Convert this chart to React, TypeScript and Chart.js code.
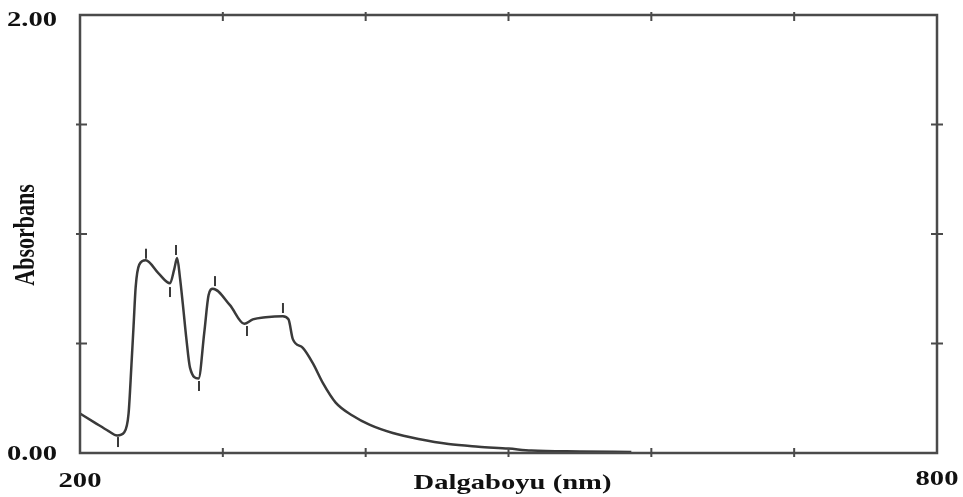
import React, { useEffect, useRef } from "react";
import { Chart, registerables } from "chart.js";

Chart.register(...registerables);

const wavelengths = [200, 210, 220, 226, 231, 234, 236, 237.5, 239, 241.5, 246, 255, 263, 266, 268, 270, 272, 274.5, 277, 283, 287, 290, 293, 305, 315, 321, 330, 342, 346, 349, 356, 363, 370, 379, 391, 403, 419, 437, 458, 479, 500, 516, 550, 586];
const absorbance = [0.18, 0.14, 0.1, 0.08, 0.095, 0.18, 0.4, 0.58, 0.76, 0.86, 0.88, 0.82, 0.775, 0.84, 0.89, 0.8, 0.68, 0.52, 0.39, 0.34, 0.55, 0.72, 0.75, 0.675, 0.59, 0.61, 0.62, 0.625, 0.61, 0.52, 0.48, 0.41, 0.32, 0.23, 0.17, 0.128, 0.091, 0.064, 0.041, 0.029, 0.02, 0.011, 0.007, 0.005];

const peakWavelengths = [226.6, 246.2, 263, 267.2, 283.3, 294.5, 316.9, 342.1];
const peakMarkValues = [0.05, 0.91, 0.735, 0.927, 0.306, 0.785, 0.557, 0.662];

const xMin = 200;
const xMax = 800;
const yMin = 0;
const yMax = 2;
const xTickValues = [300, 400, 500, 600, 700];
const yTickValues = [0.5, 1.0, 1.5];
const xEndLabels = ["200", "800"];
const yEndLabels = ["0.00", "2.00"];
const xTitle = "Dalgaboyu (nm)";
const yTitle = "Absorbans";

const FONT = "bold 22px 'Liberation Serif', 'Times New Roman', serif";
const STRETCH = 1.3;
const AXIS_COLOR = "#4a4a4a";

const framePlugin = {
  id: "frame",
  afterDraw(chart: any) {
    const { ctx, chartArea } = chart;
    const xs = chart.scales.x;
    const ys = chart.scales.y;
    const { left, right, top, bottom } = chartArea;
    ctx.save();
    ctx.strokeStyle = AXIS_COLOR;
    ctx.lineWidth = 2.5;
    ctx.strokeRect(left, top, right - left, bottom - top);
    ctx.lineWidth = 2;
    for (const v of xTickValues) {
      const px = xs.getPixelForValue(v);
      ctx.beginPath();
      ctx.moveTo(px, top - 3);
      ctx.lineTo(px, top + 6);
      ctx.moveTo(px, bottom - 5);
      ctx.lineTo(px, bottom + 4);
      ctx.stroke();
    }
    for (const v of yTickValues) {
      const py = ys.getPixelForValue(v);
      ctx.beginPath();
      ctx.moveTo(left - 4, py);
      ctx.lineTo(left + 7, py);
      ctx.moveTo(right - 6, py);
      ctx.lineTo(right + 6, py);
      ctx.stroke();
    }

    ctx.fillStyle = "#111";
    ctx.font = FONT;
    const drawText = (t: string, x: number, y: number, align: CanvasTextAlign) => {
      ctx.save();
      ctx.translate(x, y);
      ctx.scale(STRETCH, 1);
      ctx.textAlign = align;
      ctx.textBaseline = "middle";
      ctx.fillText(t, 0, 0);
      ctx.restore();
    };
    // y end labels
    drawText(yEndLabels[0], left - 23, ys.getPixelForValue(yMin) + 1, "right");
    drawText(yEndLabels[1], left - 23, Math.max(ys.getPixelForValue(yMax), 20), "right");
    // x end labels
    drawText(xEndLabels[0], xs.getPixelForValue(xMin), bottom + 28, "center");
    drawText(xEndLabels[1], xs.getPixelForValue(xMax), bottom + 26, "center");
    // x title
    drawText(xTitle, (left + right) / 2 + 4, bottom + 30, "center");
    // y title
    ctx.save();
    ctx.translate(27, (top + bottom) / 2 + 1);
    ctx.rotate(-Math.PI / 2);
    ctx.scale(1, STRETCH);
    ctx.textAlign = "center";
    ctx.textBaseline = "middle";
    ctx.fillText(yTitle, 0, 0);
    ctx.restore();
    ctx.restore();
  },
};

export default function App() {
  const ref = useRef<HTMLCanvasElement | null>(null);
  useEffect(() => {
    document.body.style.margin = "0";
    if (!ref.current) return;
    const chart = new Chart(ref.current, {
      type: "line",
      data: {
        datasets: [
          {
            label: "Absorbans",
            data: wavelengths.map((w, i) => ({ x: w, y: absorbance[i] })),
            borderColor: "#3a3a3a",
            borderWidth: 2.5,
            pointRadius: 0,
            cubicInterpolationMode: "monotone",
            fill: false,
          },
          {
            label: "peaks",
            type: "scatter",
            data: peakWavelengths.map((w, i) => ({ x: w, y: peakMarkValues[i] })),
            pointStyle: "line",
            rotation: 90,
            pointRadius: 5,
            borderColor: "#3a3a3a",
            backgroundColor: "#3a3a3a",
            borderWidth: 2,
            showLine: false,
          } as any,
        ],
      },
      options: {
        animation: false,
        responsive: false,
        maintainAspectRatio: false,
        layout: { padding: { left: 80, right: 26, top: 15, bottom: 44 } },
        plugins: { legend: { display: false }, tooltip: { enabled: false } },
        scales: {
          x: { type: "linear", min: xMin, max: xMax, display: false },
          y: { type: "linear", min: yMin, max: yMax, display: false },
        },
      },
      plugins: [framePlugin],
    });
    return () => chart.destroy();
  }, []);
  return <canvas ref={ref} width={963} height={497} style={{ display: "block", background: "#fff" }} />;
}
